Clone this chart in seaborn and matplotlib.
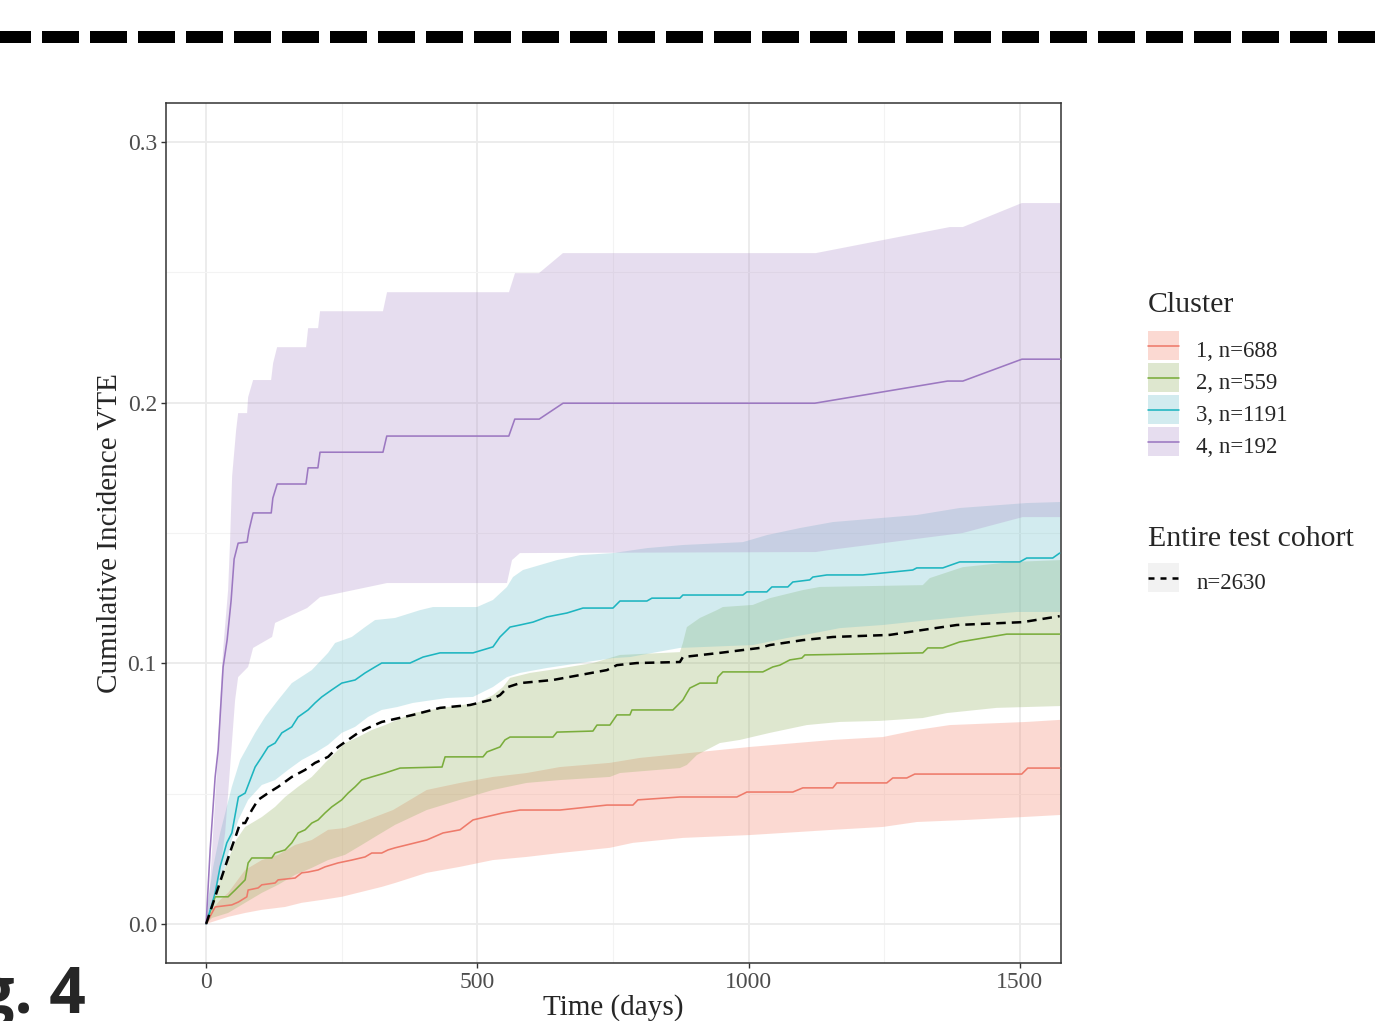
import numpy as np
import pandas as pd
import matplotlib
matplotlib.use("Agg")
import matplotlib.pyplot as plt
import seaborn as sns
from matplotlib.lines import Line2D
from matplotlib.patches import Patch, Rectangle
from matplotlib.legend_handler import HandlerPatch
from matplotlib.ticker import FormatStrFormatter

# ---------------- data ----------------
cluster_labels = ["1, n=688", "2, n=559", "3, n=1191", "4, n=192"]
cohort_label = "n=2630"
x_ticks = [0, 500, 1000, 1500]
y_ticks = [0.0, 0.1, 0.2, 0.3]

c1_t = [0, 16.6, 47.4, 59.5, 75, 77.4, 95.8, 102.6, 127.1, 132.7, 164, 176.3, 187.9, 206.4, 219.3, 243.2, 268.5, 293, 305.3, 323.7, 335.4, 348.3, 406.7, 436.7, 468, 492, 547.3, 578.6, 652.3, 738.9, 786.8, 796, 873.4, 978.4, 996.9, 1081.6, 1100, 1155.3, 1162.7, 1254.8, 1265.9, 1291.7, 1306.4, 1503.6, 1514.7, 1573.6]
c1_v = [0, .0065, .0073, .0084, .0104, .0130, .0138, .0150, .0157, .0169, .0176, .0196, .0199, .0207, .0219, .0234, .0245, .0257, .0272, .0272, .0284, .0292, .0322, .0349, .0361, .0399, .0426, .0437, .0437, .0456, .0456, .0476, .0487, .0487, .0506, .0506, .0522, .0522, .0541, .0541, .0560, .0560, .0575, .0575, .0598, .0598]
c1_up_t = [0, 11, 25.8, 40.5, 71.9, 102.6, 132.7, 164, 194.8, 224.8, 256.1, 286.9, 344.6, 406.7, 468, 528.8, 590.9, 652.3, 744.4, 799.7, 891.8, 1002.4, 1155.3, 1247.5, 1310.1, 1370.9, 1512.8, 1575]
c1_up_v = [0, .0054, .0092, .0119, .0207, .0245, .0265, .0303, .0322, .0361, .0368, .0391, .0437, .0514, .0541, .0564, .0579, .0602, .0618, .0637, .0656, .0679, .0706, .0717, .0744, .0763, .0775, .0783]
c1_lo_t = [0, 40.5, 71.9, 102.6, 145.6, 176.3, 213.2, 250, 286.9, 323.7, 348.3, 406.7, 468, 528.8, 590.9, 652.3, 744.4, 786.8, 878.9, 1002.4, 1094.5, 1155.3, 1247.5, 1310.1, 1402.2, 1505.4, 1575]
c1_lo_v = [0, .0027, .0042, .0054, .0065, .0081, .0092, .0104, .0123, .0142, .0157, .0196, .0219, .0245, .0257, .0272, .0292, .0311, .0330, .0341, .0353, .0361, .0372, .0391, .0399, .0410, .0418]

c2_t = [0, 16.6, 40.5, 53.4, 71.9, 77.4, 84.2, 121.1, 127.1, 145.6, 157.9, 169.5, 182.4, 194.8, 206.4, 219.3, 231.6, 250, 261.7, 274.6, 286.9, 305.3, 329.8, 357.5, 434.9, 440.5, 510.4, 517.8, 541.7, 550.9, 560.2, 639.4, 646.8, 713.1, 720.5, 744.4, 757.3, 781.3, 785, 860.5, 878.9, 886.3, 891.8, 910.3, 941.6, 943.5, 952.6, 1026.3, 1044.7, 1057.7, 1076.1, 1098.2, 1103.7, 1321.2, 1330.4, 1358, 1389.3, 1476, 1573.6]
c2_v = [0, .0104, .0104, .0130, .0169, .0234, .0253, .0253, .0272, .0284, .0311, .0349, .0361, .0387, .0399, .0426, .0449, .0476, .0502, .0526, .0552, .0564, .0579, .0598, .0602, .0641, .0641, .0660, .0679, .0706, .0717, .0717, .0736, .0740, .0763, .0763, .0802, .0802, .0821, .0821, .0859, .0886, .0905, .0924, .0924, .0947, .0967, .0967, .0986, .0993, .1013, .1020, .1032, .1040, .1059, .1059, .1082, .1112, .1112]
c2_up_t = [0, 11, 25.8, 40.5, 55.3, 71.9, 102.6, 127.1, 145.6, 169.5, 194.8, 219.3, 237.7, 256.1, 280.1, 305.3, 329.8, 381.4, 444.1, 499.4, 528.8, 547.3, 560.2, 597, 657.8, 713.1, 762.9, 873.4, 878.9, 886.3, 910.3, 941.6, 952.6, 1007.9, 1039.2, 1100, 1131.4, 1321.2, 1334.1, 1394.9, 1487, 1575]
c2_up_v = [0, .0073, .0169, .0245, .0322, .0372, .0410, .0449, .0487, .0526, .0564, .0618, .0656, .0694, .0717, .0744, .0763, .0809, .0832, .0848, .0878, .0909, .0944, .0963, .0982, .1001, .1032, .1043, .1078, .1139, .1174, .1204, .1216, .1224, .1250, .1281, .1293, .1300, .1327, .1369, .1389, .1396]
c2_lo_t = [0, 11, 40.5, 71.9, 102.6, 132.7, 164, 194.8, 224.8, 256.1, 286.9, 316.9, 348.3, 406.7, 468, 528.8, 590.9, 652.3, 744.4, 762.9, 873.4, 886.3, 904.7, 947.1, 984, 1039.2, 1107.4, 1168.2, 1241.9, 1321.2, 1365.4, 1457.5, 1575]
c2_lo_v = [0, .0023, .0042, .0081, .0119, .0150, .0188, .0215, .0245, .0265, .0303, .0341, .0380, .0437, .0476, .0514, .0541, .0552, .0564, .0579, .0598, .0610, .0648, .0694, .0706, .0733, .0763, .0775, .0779, .0790, .0809, .0829, .0836]

c3_t = [0, 16.6, 25.8, 38.1, 47.4, 59.5, 71.9, 81.1, 90.3, 102.6, 114.2, 127.1, 139.5, 157.9, 169.5, 187.9, 200.8, 213.2, 231.6, 250, 274.6, 293, 311.4, 323.7, 375.9, 399.9, 431.2, 492, 528.8, 541.7, 560.2, 578.6, 602.5, 628.3, 665.2, 694.7, 750, 762.9, 812.6, 821.8, 873.4, 878.9, 989.5, 996.9, 1033.7, 1043, 1072.4, 1081.6, 1112.9, 1118.5, 1144.3, 1210.6, 1302.7, 1310.1, 1358, 1383.8, 1389.3, 1499.9, 1512.8, 1560.7, 1573.6]
c3_v = [0, .0119, .0219, .0311, .0349, .0487, .0502, .0552, .0602, .0641, .0679, .0694, .0733, .0756, .0794, .0821, .0848, .0871, .0898, .0924, .0936, .0963, .0986, .1001, .1001, .1024, .1040, .1040, .1063, .1101, .1139, .1147, .1158, .1178, .1193, .1212, .1212, .1239, .1239, .1250, .1250, .1262, .1262, .1274, .1274, .1293, .1293, .1312, .1320, .1331, .1339, .1339, .1358, .1366, .1366, .1385, .1389, .1389, .1404, .1404, .1423]
c3_up_t = [0, 3.7, 12.9, 25.8, 47.4, 62.7, 90.3, 108.7, 132.7, 157.9, 194.8, 224.8, 237.7, 268.5, 293, 311.4, 348.3, 394.3, 418.3, 499.4, 528.8, 554.6, 565.7, 584.1, 615.4, 646.8, 689.2, 750, 812.6, 878.9, 989.5, 1033.7, 1094.5, 1155.3, 1310.1, 1389.3, 1512.8, 1575]
c3_up_v = [0, .0092, .0219, .0349, .0526, .0629, .0733, .0794, .0859, .0924, .0974, .1040, .1078, .1101, .1139, .1166, .1174, .1204, .1216, .1216, .1243, .1293, .1331, .1358, .1377, .1396, .1415, .1423, .1442, .1454, .1465, .1492, .1519, .1542, .1569, .1596, .1615, .1619]
c3_lo_t = [0, 11, 22.1, 35, 47.4, 59.5, 77.4, 102.6, 127.1, 151.1, 176.3, 200.8, 224.8, 250, 274.6, 298.5, 323.7, 351.9, 381.4, 444.1, 492, 528.8, 554.6, 578.6, 628.3, 689.2, 750, 781.3, 873.4, 1007.9, 1070.6, 1131.4, 1168.2, 1247.5, 1334.1, 1426.2, 1494.4, 1575]
c3_lo_v = [0, .0092, .0150, .0219, .0322, .0399, .0476, .0533, .0552, .0591, .0629, .0656, .0687, .0733, .0756, .0794, .0821, .0832, .0848, .0867, .0871, .0909, .0947, .0963, .0982, .1001, .1020, .1024, .1059, .1070, .1097, .1120, .1135, .1147, .1166, .1185, .1197, .1197]

c4_t = [0, 7.4, 16.6, 22.1, 31.3, 38.7, 46, 51.6, 59, 75.5, 79, 86.6, 120, 123, 131, 184, 188, 206, 210, 326, 333, 558, 569, 614, 658, 1122, 1367, 1395, 1504, 1575]
c4_v = [0, .0284, .0564, .0667, .0986, .109, .124, .140, .1461, .1465, .151, .1577, .1577, .1634, .1688, .1688, .175, .175, .181, .181, .1872, .1872, .1937, .1937, .1998, .1998, .2083, .2083, .2167, .2167]
c4_up_t = [0, 1.8, 7.4, 12.9, 20.3, 25.8, 31.3, 40.5, 44.2, 47.9, 55.3, 59, 75.5, 77.4, 86.6, 119.8, 123.5, 130.8, 184.3, 188, 206.4, 210, 326, 333.5, 558.3, 569.4, 613.6, 657.8, 1124, 1371, 1395, 1503.6, 1575]
c4_up_v = [0, .0042, .0157, .0349, .0602, .0859, .1051, .1281, .1473, .1718, .1895, .1960, .1960, .2021, .2087, .2087, .2152, .2213, .2213, .2286, .2286, .2351, .2351, .2424, .2424, .2497, .2497, .2574, .2574, .2674, .2674, .2766, .2766]
c4_lo_t = [0, 7.4, 22.1, 35, 44.2, 53.4, 59, 77.4, 86.6, 121.6, 127.1, 186.1, 210.1, 333.5, 554.6, 563.9, 578.6, 1124, 1149.8, 1394.9, 1505.4, 1575]
c4_lo_v = [0, .0042, .0157, .0349, .0602, .0859, .0947, .0986, .1059, .1101, .1155, .1212, .1254, .1308, .1308, .1396, .1423, .1427, .1435, .1500, .1561, .1561]

all_t = [0, 16.6, 35, 47.4, 56.6, 62.7, 71.9, 84.2, 95.8, 114.2, 132.7, 157.9, 182.4, 200.8, 224.8, 243.2, 261.7, 280.1, 298.5, 323.7, 381.4, 431.2, 486.5, 523.3, 541.7, 556.5, 578.6, 639.4, 689.2, 738.9, 757.3, 794.2, 873.4, 878.9, 947.1, 1020.8, 1039.2, 1100, 1155.3, 1260.4, 1321.2, 1383.8, 1505.4, 1573.6]
all_v = [0, .0104, .0219, .0295, .0349, .0387, .0387, .0437, .0476, .0502, .0526, .0564, .0591, .0618, .0641, .0679, .0706, .0733, .0752, .0775, .0802, .0829, .0840, .0859, .0878, .0909, .0924, .0936, .0955, .0974, .0993, .1001, .1005, .1024, .1040, .1059, .1070, .1089, .1101, .1109, .1128, .1147, .1158, .1181]

line_colors = ["#EE7A6A", "#7AAD3C", "#1DB5C0", "#9C78C1"]
fill_colors = ["#F5846C", "#94B262", "#6CC0CA", "#AF91CA"]
fill_alpha = 0.3

series = [
    (c1_t, c1_v, c1_up_t, c1_up_v, c1_lo_t, c1_lo_v),
    (c2_t, c2_v, c2_up_t, c2_up_v, c2_lo_t, c2_lo_v),
    (c3_t, c3_v, c3_up_t, c3_up_v, c3_lo_t, c3_lo_v),
    (c4_t, c4_v, c4_up_t, c4_up_v, c4_lo_t, c4_lo_v),
]

# ---------------- style ----------------
sns.set_theme(style="white")
plt.rcParams["font.family"] = ["Liberation Serif", "DejaVu Serif"]
plt.rcParams["axes.unicode_minus"] = False

W, H = 1375, 1021
fig = plt.figure(figsize=(W / 100, H / 100), dpi=100)
ax = fig.add_axes([166 / W, 1 - 963 / H, (1061 - 166) / W, (963 - 103) / H])

# bands
for (t, v, ut, uv, lt, lv), fc in zip(series, fill_colors):
    px = np.concatenate([np.asarray(ut, float), np.asarray(lt, float)[::-1]])
    py = np.concatenate([np.asarray(uv, float), np.asarray(lv, float)[::-1]])
    ax.fill(px, py, color=fc, alpha=fill_alpha, linewidth=0, zorder=2)

# lines
for (t, v, ut, uv, lt, lv), lc in zip(series, line_colors):
    df = pd.DataFrame({"time": t, "cif": v})
    sns.lineplot(data=df, x="time", y="cif", ax=ax, color=lc, linewidth=1.15,
                 sort=False, estimator=None, zorder=3)

df_all = pd.DataFrame({"time": all_t, "cif": all_v})
sns.lineplot(data=df_all, x="time", y="cif", ax=ax, color="black", linewidth=1.8,
             sort=False, estimator=None, zorder=4)
ax.lines[-1].set_dashes((3.8, 2.4))

ax.set_xlim(-74, 1576)
ax.set_ylim(-0.015, 0.315)
ax.set_xticks(x_ticks)
ax.set_xticks([250, 750, 1250], minor=True)
ax.set_yticks(y_ticks)
ax.set_yticks([0.05, 0.15, 0.25], minor=True)
ax.yaxis.set_major_formatter(FormatStrFormatter("%.1f"))
ax.grid(which="major", color="#EBEBEB", linewidth=1.3)
ax.grid(which="minor", color="#F3F3F3", linewidth=0.8)
ax.set_axisbelow(True)
ax.tick_params(which="major", direction="out", length=3.5, width=1.0, color="#333333",
               labelsize=17, labelcolor="#4D4D4D", pad=3, bottom=True, left=True)
ax.tick_params(which="minor", length=0)
for s in ax.spines.values():
    s.set_color("#333333")
    s.set_linewidth(1.1)

ax.set_xlabel("Time (days)", fontsize=21, labelpad=1)
ax.set_ylabel("Cumulative Incidence VTE", fontsize=21, labelpad=3)


# legend key: filled box centred on the key line, with a thin gap between rows
def centred_box(legend, orig_handle, xdescent, ydescent, width, height, fontsize):
    gap = 1.8
    return Rectangle(xy=(-xdescent, -ydescent / 2 + gap / 2), width=width,
                     height=height - gap)


box_handler = HandlerPatch(patch_func=centred_box)
legend_kw = dict(loc="upper left", bbox_transform=fig.transFigure, frameon=False,
                 borderpad=0, borderaxespad=0, fontsize=16.5, handlelength=1.35,
                 handleheight=1.77, labelspacing=0.0, handletextpad=0.75,
                 handler_map={Patch: box_handler})

handles = [(Patch(facecolor=fc, alpha=fill_alpha, edgecolor="none"),
            Line2D([], [], color=lc, linewidth=1.15))
           for fc, lc in zip(fill_colors, line_colors)]
fig.text(1148 / W, 1 - 312 / H, "Cluster", fontsize=21.5, ha="left", va="baseline")
leg1 = ax.legend(handles, cluster_labels, bbox_to_anchor=(1148 / W, 1 - 334 / H),
                 **legend_kw)
ax.add_artist(leg1)

fig.text(1148 / W, 1 - 546 / H, "Entire test cohort", fontsize=21.5, ha="left", va="baseline")
h2 = [(Patch(facecolor="#F2F2F2", edgecolor="none"),
       Line2D([], [], color="black", linewidth=1.8, dashes=(2.4, 2.4)))]
leg2 = ax.legend(h2, [cohort_label], bbox_to_anchor=(1148 / W, 1 - 566 / H), **legend_kw)

# top separator dashed line
lw_px = 12
sep = Line2D([0, 1], [1 - 37 / H, 1 - 37 / H], transform=fig.transFigure,
             color="black", linewidth=lw_px * 0.72, solid_capstyle="butt",
             dash_capstyle="butt", linestyle=(0.5, (37 / lw_px, 11 / lw_px)))
fig.add_artist(sep)

# figure label
fig.text(86 / W, 1 - 1013 / H, "Fig. 4", fontsize=46, fontweight="bold",
         family=["Open Sans", "DejaVu Sans"], ha="right", va="baseline")

fig.savefig("out.png", dpi=100)
